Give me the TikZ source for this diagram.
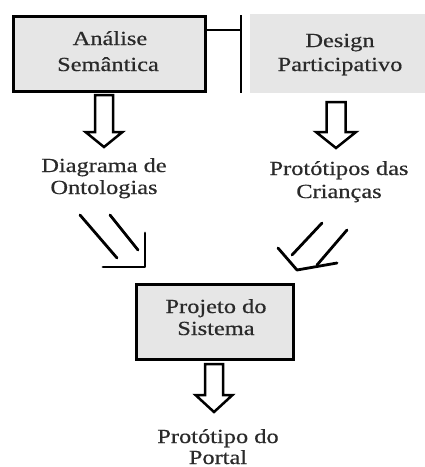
\documentclass[tikz,border=0pt]{standalone}
\usepackage{fontspec}
\setmainfont{Liberation Serif}
\newfontfamily\diagfont{Liberation Serif}[FakeBold=0.5]
\usepackage{graphicx}
\definecolor{boxgray}{HTML}{E6E6E6}
\definecolor{textgray}{HTML}{2A2A2A}
\newcommand{\wtxt}[1]{\scalebox{1.22}[1]{#1}}
\newcommand{\blockarrow}[6]{%
  \draw[barrow] (#1-#5,#2) -- (#1-#5,#3) -- (#1-#6,#3) -- (#1,#4) -- (#1+#6,#3) -- (#1+#5,#3) -- (#1+#5,#2) -- cycle;}
\begin{document}
\begin{tikzpicture}[x=1pt,y=-1pt,
  box/.style={draw=black, line width=3pt, fill=boxgray, inner sep=0pt},
  flatbox/.style={fill=boxgray, inner sep=0pt},
  txt/.style={inner sep=0pt, anchor=base, font=\diagfont\fontsize{20}{24}\selectfont, text=textgray},
  conn/.style={line width=2.8pt, draw=black},
  barrow/.style={draw=black, line width=2.5pt, fill=white, line join=miter},
  hand/.style={line width=2.8pt, draw=black, line cap=round, line join=round}]
\useasboundingbox (0,0) rectangle (425,467);

% boxes
\node[box, minimum width=192pt, minimum height=75pt] (b1) at (109.5,54) {};
\node[flatbox, minimum width=175pt, minimum height=79pt] (b2) at (337.5,53.5) {};
\node[box, minimum width=157pt, minimum height=75pt] (b3) at (215,322) {};

% connector with bar
\coordinate (bt) at (241,15);
\coordinate (bb) at (241,93);
\draw[conn] (bt) -- (bb);
\draw[conn] (b1.east |- 0,30) -- (bt |- 0,30);

% texts
\node[txt] (t1a) at (110,45) {\wtxt{Análise}};
\node[txt] (t1b) at (108,71) {\wtxt{Semântica}};
\node[txt] (t2a) at (340,47) {\wtxt{Design}};
\node[txt] (t2b) at (340,71) {\wtxt{Participativo}};
\node[txt] (t3a) at (104,172) {\wtxt{Diagrama de}};
\node[txt] (t3b) at (104,194) {\wtxt{Ontologias}};
\node[txt] (t4a) at (339,175) {\wtxt{Protótipos das}};
\node[txt] (t4b) at (339,198) {\wtxt{Crianças}};
\node[txt] (t5a) at (216,313) {\wtxt{Projeto do}};
\node[txt] (t5b) at (216,335) {\wtxt{Sistema}};
\node[txt] (t6a) at (218,443) {\wtxt{Protótipo do}};
\node[txt] (t6b) at (218,464) {\wtxt{Portal}};

% block arrows
\blockarrow{104}{95}{132}{147}{9}{18.5}
\blockarrow{336}{102}{132}{148}{9.5}{20}
\blockarrow{214}{364}{395}{412}{9}{18.5}

% hand drawn double arrows
\draw[hand] (80,215) -- (117,258);
\draw[hand] (110,215) -- (138,250);
\draw[hand] (103,267) -- (145,267) -- (145,233);
\draw[hand] (322,223) -- (292,255);
\draw[hand] (347,230) -- (317,265);
\draw[hand] (278,248) -- (297,270) -- (337,263);
\end{tikzpicture}
\end{document}
